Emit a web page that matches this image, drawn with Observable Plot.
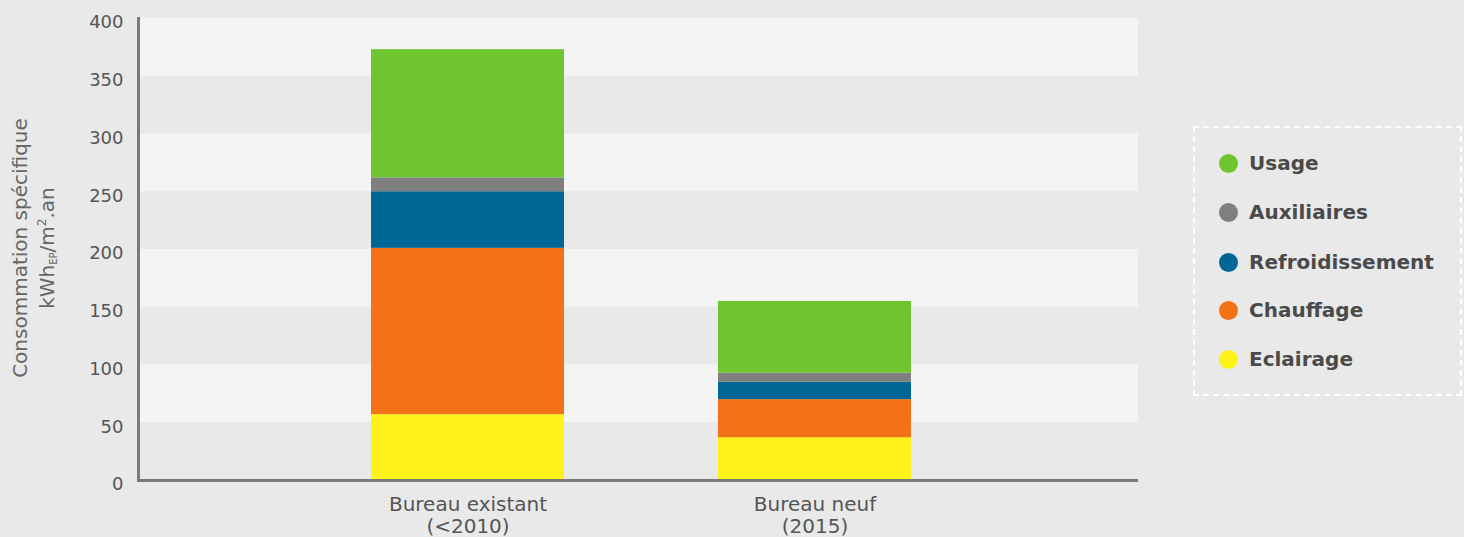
<!DOCTYPE html>
<html><head><meta charset="utf-8">
<script src="https://cdn.jsdelivr.net/npm/d3@7"></script>
<script src="https://cdn.jsdelivr.net/npm/@observablehq/plot@0.6"></script>
<style>
html,body{margin:0;padding:0;background:#e9e9e9;}
#wrap{position:relative;width:1464px;height:537px;background:#e9e9e9;font-family:"DejaVu Sans",Verdana,sans-serif;overflow:hidden;}
#wrap svg{position:absolute;left:0;top:0;}
#ytitle{position:absolute;left:37px;top:248px;width:400px;transform:translate(-50%,-50%) rotate(-90deg);text-align:center;color:#666;font-size:20px;line-height:22px;white-space:nowrap;}
#ytitle sub{font-size:10px;vertical-align:-3px;}
#ytitle sup{font-size:12px;}
#legend{position:absolute;left:1193px;top:126px;width:269px;height:270px;box-sizing:border-box;border:2px dashed #ffffff;}
.item{position:absolute;left:0;height:24px;display:flex;align-items:center;font-weight:bold;font-size:20px;color:#4a4a4a;}
.dot{width:19px;height:19px;border-radius:50%;margin-left:24px;margin-right:11px;}
</style></head><body><div id="wrap"></div>
<script>
const buildings = ["existant", "neuf"];
const buildingLabels = ["Bureau existant\n(<2010)", "Bureau neuf\n(2015)"];
const series = ["Eclairage", "Chauffage", "Refroidissement", "Auxiliaires", "Usage"];
const colors = ["#fff21a", "#f47216", "#006693", "#7f7f7f", "#6fc52f"];
const valuesExistant = [57, 144, 49, 12, 111];
const valuesNeuf = [37, 33, 15, 8, 62];
const yTicks = [0, 50, 100, 150, 200, 250, 300, 350, 400];
const lightBands = [[50, 100], [150, 200], [250, 300], [350, 400]];

const data = [];
series.forEach((s, i) => {
  data.push({building: buildings[0], type: s, value: valuesExistant[i]});
  data.push({building: buildings[1], type: s, value: valuesNeuf[i]});
});

const font = '"DejaVu Sans", Verdana, sans-serif';
const plot = Plot.plot({
  width: 1464,
  height: 537,
  marginLeft: 138,
  marginRight: 326,
  marginTop: 18,
  marginBottom: 57,
  style: {background: "transparent", fontFamily: font, color: "#555", overflow: "visible"},
  x: {domain: buildings, paddingInner: 0.445, paddingOuter: 0.66, align: 0.507, label: null},
  y: {domain: [0, 400], label: null},
  color: {domain: series, range: colors},
  marks: [
    Plot.barY(lightBands, {y1: d => d[0], y2: d => d[1], fill: "#f4f4f4"}),
    Plot.barY(data, {x: "building", y: "value", fill: "type"}),
    Plot.frame({anchor: "left", stroke: "#7a7a7a", strokeWidth: 3}),
    Plot.ruleY([0], {stroke: "#7a7a7a", strokeWidth: 3}),
    Plot.axisY({ticks: yTicks, tickSize: 0, tickPadding: 15, dy: 4, fontSize: 18, fill: "#555", label: null}),
    Plot.axisX({tickSize: 0, tickPadding: 15, fontSize: 20, fill: "#555", lineHeight: 1.1, label: null,
      tickFormat: d => buildingLabels[buildings.indexOf(d)]})
  ]
});
const wrap = document.getElementById("wrap");
wrap.appendChild(plot);

const yt = document.createElement("div");
yt.id = "ytitle";
yt.innerHTML = 'Consommation spécifique<br>kWh<sub>EP</sub>/m<sup>2</sup>.an';
wrap.appendChild(yt);

const legend = document.createElement("div");
legend.id = "legend";
const itemTops = [37, 86, 136, 184, 233];
series.slice().reverse().forEach((s, i) => {
  const it = document.createElement("div");
  it.className = "item";
  it.style.top = (itemTops[i] - 2 - 12) + "px";
  const dot = document.createElement("span");
  dot.className = "dot";
  dot.style.background = colors[series.indexOf(s)];
  const t = document.createElement("span");
  t.textContent = s;
  it.appendChild(dot); it.appendChild(t);
  legend.appendChild(it);
});
wrap.appendChild(legend);
</script></body></html>
